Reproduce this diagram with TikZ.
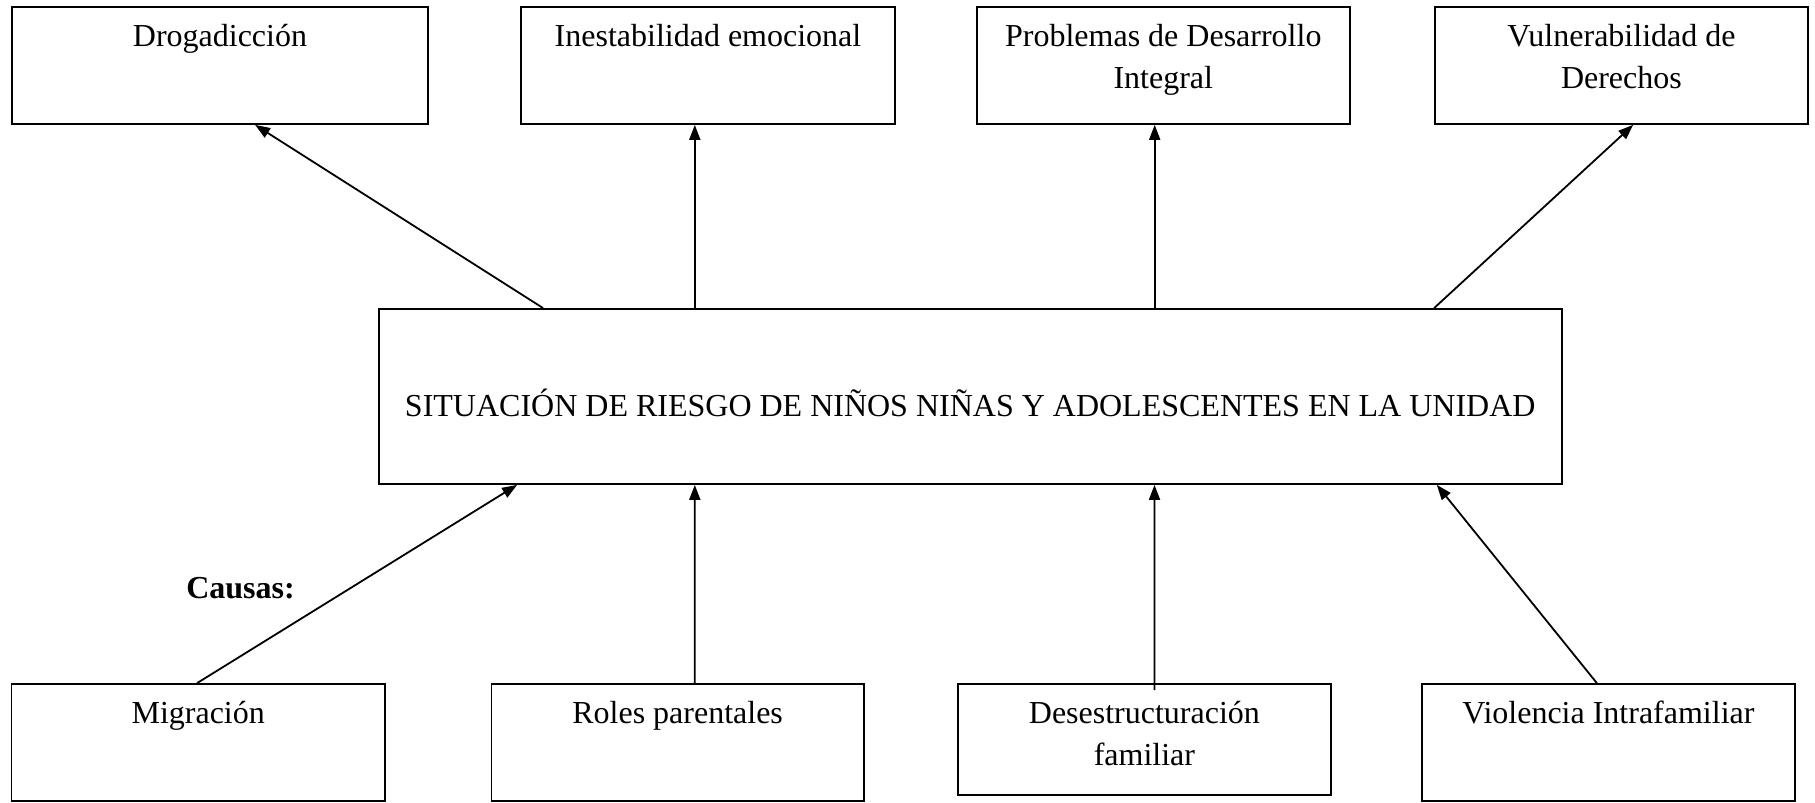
\documentclass[tikz,border=0pt]{standalone}
\usepackage{fontspec}
\setmainfont{Liberation Serif}
\usetikzlibrary{arrows.meta}
\begin{document}
\begin{tikzpicture}[x=1pt,y=1pt,
  box/.style={draw=black,line width=1.8pt,rectangle,inner sep=0pt},
  topbox/.style={box,minimum width=374pt,minimum height=117pt},
  botbox/.style={box,minimum width=374pt,minimum height=116.7pt},
  txt/.style={font=\fontsize{32pt}{42.5pt}\selectfont,align=center,inner sep=0pt,anchor=base},
  arr/.style={line width=1.8pt,-{Triangle[length=15pt,width=11pt]}}]
\useasboundingbox (0,0) rectangle (1815,803);
% effect boxes
\node[topbox,minimum width=416pt] (drog) at (220,737.5) {};
\node[topbox] (inest) at (708,737.5) {};
\node[topbox,minimum width=373pt] (probl) at (1163.3,737.5) {};
\node[topbox,minimum width=373.3pt] (vuln) at (1621.4,737.5) {};
% central box
\node[box,minimum width=1182.6pt,minimum height=175pt] (cen) at (970.3,406.5) {};
% cause boxes
\node[botbox,minimum width=373.6pt] (migr) at (198.2,60.65) {};
\node[botbox,minimum width=372.4pt] (roles) at (677.6,60.65) {};
\node[botbox,minimum width=373.3pt,minimum height=110.7pt] (deses) at (1144.4,63.65) {};
\node[botbox,minimum width=373.3pt] (viol) at (1608.4,60.65) {};
% texts (base anchor = baseline of the last line)
\node[txt] (tdrog) at (220,756) {Drogadicción};
\node[txt] (tinest) at (708,756) {Inestabilidad emocional};
\node[txt] (tprobl) at (1163.3,714) {Problemas de Desarrollo\\Integral};
\node[txt] (tvuln) at (1621.4,714) {Vulnerabilidad de\\Derechos};
\node[txt] (tcen) at (970.3,386) {SITUACIÓN DE RIESGO DE NIÑOS NIÑAS Y ADOLESCENTES EN LA UNIDAD};
\node[txt] (tmigr) at (198.2,79) {Migración};
\node[txt] (troles) at (677.6,79) {Roles parentales};
\node[txt] (tdeses) at (1144.4,37) {Desestructuración\\familiar};
\node[txt] (tviol) at (1608.4,79) {Violencia Intrafamiliar};
\node[txt,font=\fontsize{32pt}{42.5pt}\selectfont\bfseries] (causas) at (240.5,204) {Causas:};
% connectors: effects
\draw[arr] ([xshift=165pt]cen.north west) -- ([xshift=244pt]drog.south west);
\draw[arr] ([xshift=316.7pt]cen.north west) -- ([xshift=174.7pt]inest.south west);
\draw[arr] ([xshift=776.6pt]cen.north west) -- ([xshift=178.8pt]probl.south west);
\draw[arr] ([xshift=1056pt]cen.north west) -- ([xshift=199.3pt]vuln.south west);
% connectors: causes
\draw[arr] ([xshift=186.6pt]migr.north west) -- ([xshift=139pt]cen.south west);
\draw[arr] ([xshift=204.3pt]roles.north west) -- ([xshift=316.7pt]cen.south west);
\draw[arr] ([xshift=197.7pt,yshift=-7pt]deses.north west) -- ([xshift=776.4pt]cen.south west);
\draw[arr] ([xshift=176pt]viol.north west) -- ([xshift=1058.7pt]cen.south west);
\end{tikzpicture}
\end{document}
